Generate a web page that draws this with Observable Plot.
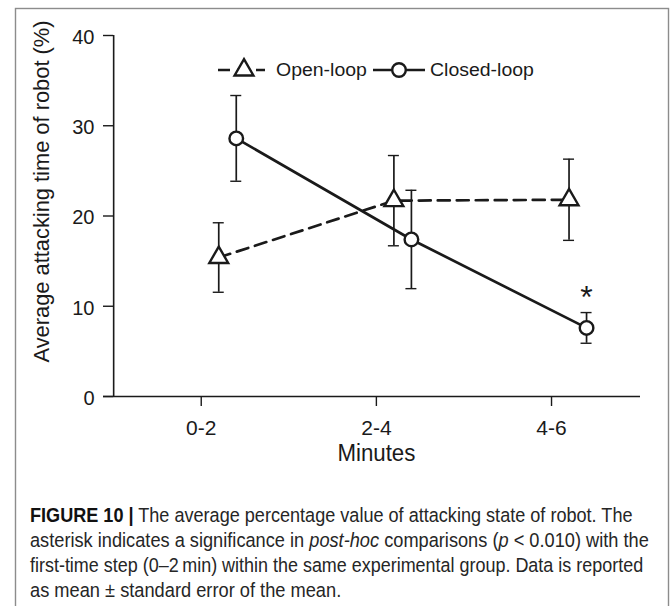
<!DOCTYPE html>
<html><head><meta charset="utf-8">
<script src="https://cdn.jsdelivr.net/npm/d3@7"></script>
<script src="https://cdn.jsdelivr.net/npm/@observablehq/plot@0.6"></script>
<style>
body{margin:0;background:#fff;}
#wrap{position:relative;width:671px;height:606px;overflow:hidden;background:#fff;font-family:"Liberation Sans",Arial,sans-serif;}
#chart{position:absolute;left:0;top:0;}
#overlay{position:absolute;left:0;top:0;pointer-events:none;}
</style></head><body>
<div id="wrap"><div id="chart"></div><svg id="overlay" width="671" height="606"></svg></div>
<script>
// ---- data ----
const minutes = ["0-2", "2-4", "4-6"];
const openMean = [15.4, 21.7, 21.8];
const openSE = [3.85, 5.0, 4.5];
const closedMean = [28.6, 17.4, 7.6];
const closedSE = [4.75, 5.45, 1.7];
const closedSignificant = [false, false, true];
const yTicks = [0, 10, 20, 30, 40];
const seriesNames = ["Open-loop", "Closed-loop"];
const xLabel = "Minutes";
const yLabel = "Average attacking time of robot (%)";
const captionLines = [
  [["b", "FIGURE 10 |"], ["", " The average percentage value of attacking state of robot. The"]],
  [["", "asterisk indicates a significance in "], ["i", "post-hoc"], ["", " comparisons ("], ["i", "p"], ["", " < 0.010) with the"]],
  [["", "first-time step (0\u20132\u2009min) within the same experimental group. Data is reported"]],
  [["", "as mean \u00b1 standard error of the mean."]]
];

// ---- layout ----
const W = 671, H = 480;
const fL = 103, fR = 640, fT = 35, fB = 396;
const xMin = -0.558, xMax = 2.508;
const ppu = (fB - fT) / 40;
const tickU = 10 / ppu;
const capHalf = 5.5 / ((fR - fL) / (xMax - xMin));
const ink = "#1a1a1a";
const font = "Liberation Sans, Arial, sans-serif";

const openRows = minutes.map((m, i) => ({i, x: i + 0.1, mean: openMean[i], se: openSE[i]}));
const closedRows = minutes.map((m, i) => ({i, x: i + 0.2, mean: closedMean[i], se: closedSE[i], sig: closedSignificant[i]}));
const allRows = openRows.concat(closedRows);

const chart = Plot.plot({
  width: W, height: H,
  marginLeft: fL, marginRight: W - fR, marginTop: fT, marginBottom: H - fB,
  style: {fontFamily: font, background: "transparent", color: ink},
  x: {type: "linear", domain: [xMin, xMax], axis: null},
  y: {type: "linear", domain: [0, 40], axis: null},
  marks: [
    Plot.ruleY([0], {stroke: ink, strokeWidth: 1.6}),
    Plot.ruleX([-0.5], {y1: 0, y2: 40, stroke: ink, strokeWidth: 1.6}),
    Plot.ruleY(yTicks, {x1: xMin, x2: -0.5, stroke: ink, strokeWidth: 1.4}),
    Plot.text(yTicks, {x: xMin, y: d => d, text: d => String(d), textAnchor: "end", dx: -9, dy: 2, fontSize: 20, fill: ink}),
    Plot.ruleX([0, 1, 2], {y1: 0, y2: -tickU, stroke: ink, strokeWidth: 1.4}),
    Plot.text([0, 1, 2], {x: d => d, y: 0, text: i => minutes[i], dy: 32, fontSize: 21, fill: ink}),
    Plot.text([xLabel], {x: () => 1, frameAnchor: "bottom", text: d => d, dy: 64.6, fontSize: 23, fill: ink}),
    Plot.text([yLabel], {frameAnchor: "left", textAnchor: "middle", text: d => d, rotate: -90, dx: -62, dy: -24.5, fontSize: 22.5, fill: ink}),
    // error bars
    Plot.ruleX(allRows, {x: "x", y1: d => d.mean - d.se, y2: d => d.mean + d.se, stroke: ink, strokeWidth: 1.7}),
    Plot.ruleY(allRows, {y: d => d.mean + d.se, x1: d => d.x - capHalf, x2: d => d.x + capHalf, stroke: ink, strokeWidth: 1.4}),
    Plot.ruleY(allRows, {y: d => d.mean - d.se, x1: d => d.x - capHalf, x2: d => d.x + capHalf, stroke: ink, strokeWidth: 1.4}),
    // lines
    Plot.line(openRows, {x: "x", y: "mean", stroke: ink, strokeWidth: 2.7, strokeDasharray: "12,7"}),
    Plot.line(closedRows, {x: "x", y: "mean", stroke: ink, strokeWidth: 2.7}),
    // markers
    Plot.dot(openRows, {x: "x", y: "mean", symbol: "triangle", r: 7, fill: "white", stroke: ink, strokeWidth: 2.4}),
    Plot.dot(closedRows, {x: "x", y: "mean", symbol: "circle", r: 6.8, fill: "white", stroke: ink, strokeWidth: 2.4}),
    // significance
    Plot.text(closedRows.filter(d => d.sig), {x: "x", y: d => d.mean + d.se, text: () => "*", dy: -15, fontSize: 32, fill: ink})
  ]
});
document.getElementById("chart").appendChild(chart);

// compress axis titles to reference widths
chart.querySelectorAll("text").forEach(t => {
  if (t.textContent === xLabel) { t.setAttribute("textLength", 78); t.setAttribute("lengthAdjust", "spacingAndGlyphs"); }
  if (t.textContent === yLabel) { t.setAttribute("textLength", 342); t.setAttribute("lengthAdjust", "spacingAndGlyphs"); }
});

// ---- overlay: frame, legend, caption ----
const ov = d3.select("#overlay");
ov.append("rect").attr("x", 15.5).attr("y", 8.5).attr("width", 653).attr("height", 700)
  .attr("fill", "none").attr("stroke", "#8c8c8c").attr("stroke-width", 1.4);

function fit(el, w, x0) {
  const n = el.node().getComputedTextLength();
  el.attr("transform", `translate(${x0} 0) scale(${w / n} 1) translate(${-x0} 0)`);
}

const lg = ov.append("g");
const ly = 70;
lg.append("line").attr("x1", 218).attr("x2", 265).attr("y1", ly).attr("y2", ly)
  .attr("stroke", ink).attr("stroke-width", 2.7).attr("stroke-dasharray", "12,7");
lg.append("path").attr("d", d3.symbol(d3.symbolTriangle, Math.PI * 49)())
  .attr("transform", `translate(244,${ly})`).attr("fill", "white").attr("stroke", ink).attr("stroke-width", 2.4);
const t1 = lg.append("text").attr("x", 276).attr("y", 76.5).attr("font-size", 18.5).attr("fill", ink).text(seriesNames[0]);
lg.append("line").attr("x1", 373).attr("x2", 425).attr("y1", ly).attr("y2", ly)
  .attr("stroke", ink).attr("stroke-width", 2.7);
lg.append("circle").attr("cx", 399).attr("cy", ly).attr("r", 6.8).attr("fill", "white").attr("stroke", ink).attr("stroke-width", 2.4);
const t2 = lg.append("text").attr("x", 430).attr("y", 76.5).attr("font-size", 18.5).attr("fill", ink).text(seriesNames[1]);
fit(t1, 91, 276);
fit(t2, 104, 430);

const capBase = [522, 547, 572, 597];
const capWidth = [603, 619, 613.5, 311.5];
captionLines.forEach((parts, k) => {
  const t = ov.append("text").attr("x", 30).attr("y", capBase[k]).attr("font-size", 19.5).attr("fill", "#262626")
    .style("white-space", "pre");
  parts.forEach(([s, str]) => {
    const sp = t.append("tspan").text(str);
    if (s === "b") sp.attr("font-weight", "bold").attr("fill", "#111");
    if (s === "i") sp.attr("font-style", "italic");
  });
  fit(t, capWidth[k], 30);
});
</script>
</body></html>
